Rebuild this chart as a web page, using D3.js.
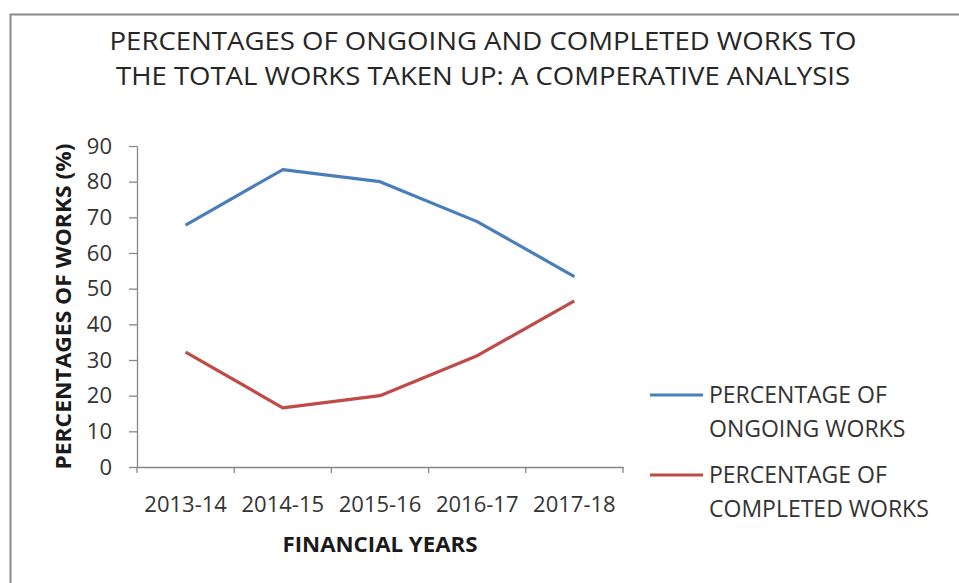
<!DOCTYPE html>
<html>
<head>
<meta charset="utf-8">
<script src="https://cdn.jsdelivr.net/npm/d3@7"></script>
<style>
  html, body { margin: 0; padding: 0; background: #fff; }
  svg { display: block; }
  text { font-family: "Open Sans", "Noto Sans", sans-serif; fill: #404040; }
</style>
</head>
<body>
<svg id="chart" width="959" height="583"></svg>
<script>
// Financial years on the category axis
const years = ["2013-14", "2014-15", "2015-16", "2016-17", "2017-18"];
// Share of works (%) per year
const ongoing = [67.8, 83.4, 80.0, 68.8, 53.4];
const completed = [32.2, 16.6, 20.0, 31.2, 46.6];
// Value axis ticks
const yTicks = [0, 10, 20, 30, 40, 50, 60, 70, 80, 90];
const titleLines = [
  "PERCENTAGES OF ONGOING AND COMPLETED WORKS TO",
  "THE TOTAL WORKS TAKEN UP: A COMPERATIVE ANALYSIS"
];
const seriesNames = [
  ["PERCENTAGE OF", "ONGOING WORKS"],
  ["PERCENTAGE OF", "COMPLETED WORKS"]
];
const colors = ["#4a7ebb", "#be4b48"];

const svg = d3.select("#chart");

// chart frame
svg.append("rect")
  .attr("x", 10.5).attr("y", 14.5)
  .attr("width", 1000).attr("height", 620)
  .attr("fill", "#fff")
  .attr("stroke", "#8a8a8a").attr("stroke-width", 2);

// title
svg.append("g").selectAll("text").data(titleLines).join("text")
  .attr("x", 483)
  .attr("y", (d, i) => 50 + i * 35)
  .attr("text-anchor", "middle")
  .attr("font-size", 25)
  .attr("textLength", (d, i) => i === 0 ? 747 : 734)
  .attr("lengthAdjust", "spacingAndGlyphs")
  .style("fill", "#262626")
  .text(d => d);

const plot = { left: 137, right: 623, top: 146, bottom: 467 };

const x = d3.scaleBand().domain(years).range([plot.left, plot.right]).padding(0);
const y = d3.scaleLinear().domain([0, 90]).range([plot.bottom, plot.top]);

const axisColor = "#868686";

// y axis
const gy = svg.append("g")
  .attr("transform", `translate(${plot.left},0)`)
  .call(d3.axisLeft(y).tickValues(yTicks).tickSize(8).tickSizeOuter(0).tickPadding(17));
gy.select(".domain").attr("stroke", axisColor).attr("stroke-width", 1.3);
gy.selectAll(".tick line").attr("stroke", axisColor).attr("stroke-width", 1.3);
gy.selectAll(".tick text")
  .attr("font-size", 22)
  .style("font-family", "'Open Sans', sans-serif")
  .style("fill", "#333");

// x axis: labels centred in each category, tick marks on category edges
const gx = svg.append("g")
  .attr("transform", `translate(0,${plot.bottom})`)
  .call(d3.axisBottom(x).tickSize(0).tickSizeOuter(0).tickPadding(28));
gx.select(".domain").attr("stroke", axisColor).attr("stroke-width", 1.3);
gx.selectAll(".tick text")
  .attr("font-size", 22)
  .attr("dy", "0")
  .attr("y", 45)
  .style("font-family", "'Open Sans', sans-serif")
  .style("fill", "#333");
const edges = years.map(d => x(d)).concat([x.range()[1]]);
gx.selectAll("line.edge").data(edges).join("line")
  .attr("class", "edge")
  .attr("x1", d => d).attr("x2", d => d)
  .attr("y1", 0).attr("y2", 6)
  .attr("stroke", axisColor).attr("stroke-width", 1.3);

// axis titles
svg.append("text")
  .attr("transform", `translate(71,${(plot.top + plot.bottom) / 2}) rotate(-90)`)
  .attr("text-anchor", "middle")
  .attr("font-size", 22)
  .attr("font-weight", "bold")
  .attr("textLength", 326)
  .attr("lengthAdjust", "spacingAndGlyphs")
  .style("fill", "#1a1a1a")
  .text("PERCENTAGES OF WORKS (%)");

svg.append("text")
  .attr("x", 380).attr("y", 552)
  .attr("text-anchor", "middle")
  .attr("font-size", 21)
  .attr("font-weight", "bold")
  .attr("textLength", 195)
  .attr("lengthAdjust", "spacingAndGlyphs")
  .style("fill", "#1a1a1a")
  .text("FINANCIAL YEARS");

// series lines
const line = d3.line()
  .x((d, i) => x(years[i]) + x.bandwidth() / 2)
  .y(d => y(d));

[ongoing, completed].forEach((vals, k) => {
  svg.append("path")
    .datum(vals)
    .attr("fill", "none")
    .attr("stroke", colors[k])
    .attr("stroke-width", 3.2)
    .attr("stroke-linejoin", "round")
    .attr("d", line);
});

// legend
const legend = svg.append("g");
const legendY = [395, 475];
seriesNames.forEach((lines, k) => {
  legend.append("line")
    .attr("x1", 650).attr("x2", 703)
    .attr("y1", legendY[k]).attr("y2", legendY[k])
    .attr("stroke", colors[k]).attr("stroke-width", 3.2);
  legend.append("g").selectAll("text").data(lines).join("text")
    .attr("x", 709)
    .attr("y", (d, i) => legendY[k] + 8 + i * 34)
    .attr("font-size", 23)
    .style("fill", "#333")
    .text(d => d);
});
</script>
</body>
</html>
